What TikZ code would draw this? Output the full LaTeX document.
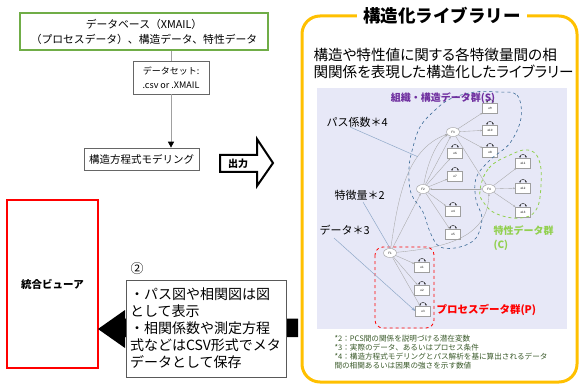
\documentclass[tikz,border=0pt]{standalone}
\usepackage{fontspec}
\setmainfont{Noto Sans CJK JP}
\newfontfamily\pfont{Noto Sans CJK JP}[RawFeature=+palt]
\usetikzlibrary{shapes.geometric,arrows.meta,calc}
\definecolor{dbgreen}{HTML}{70AD47}
\definecolor{libyellow}{HTML}{FFC000}
\definecolor{panelbg}{HTML}{E7E8F7}
\definecolor{spurple}{HTML}{7030A0}
\definecolor{cgreen}{HTML}{92D050}
\definecolor{noteg}{HTML}{3A5A2A}
\definecolor{blobblue}{HTML}{3A6A96}
\definecolor{leader}{HTML}{8FA8C8}
\definecolor{grayln}{HTML}{A0A0A0}
\begin{document}
\begin{tikzpicture}[x=1pt,y=-1pt,
  plainbox/.style={draw=gray!80!black, line width=0.7pt, fill=white, inner sep=3pt},
  lat/.style={ellipse, draw=gray!75, fill=white, minimum width=13pt, minimum height=9pt, inner sep=0pt, font=\fontsize{3}{3}\selectfont},
  obs/.style={rectangle, draw=gray!75, fill=white, minimum width=15pt, minimum height=10pt, inner sep=0pt, font=\fontsize{3}{3}\selectfont},
  pe/.style={draw=gray!70, line width=0.35pt, -{Stealth[length=2.2pt,width=1.6pt]}},
  pd/.style={draw=gray!70, line width=0.35pt, {Stealth[length=2.2pt,width=1.6pt]}-{Stealth[length=2.2pt,width=1.6pt]}},
  errarc/.style={draw=black, line width=0.4pt, {Stealth[length=1.6pt,width=1.4pt]}-{Stealth[length=1.6pt,width=1.4pt]}},
  lead/.style={draw=leader, line width=0.5pt}
]
\useasboundingbox (0,0) rectangle (580,387);

% ---------- left flow ----------
\node[draw=dbgreen, line width=1.8pt, minimum width=248pt, minimum height=37pt, align=center,
      font=\fontsize{10.8}{15}\selectfont] (db) at (144,31.5)
  {データベース（XMAIL）\\（プロセスデータ）、構造データ、特性データ};
\node[plainbox, minimum width=76pt, minimum height=33pt, align=center,
      font=\fontsize{9}{13.5}\selectfont] (ds) at (171,77.5)
  {データセット:\\.csv or .XMAIL};
\node[plainbox, minimum width=115pt, minimum height=22pt,
      font=\fontsize{10.5}{12}\selectfont] (sem) at (141.5,159) {構造方程式モデリング};
\draw[grayln, line width=0.8pt] (ds.north |- db.south) -- (ds.north);
\draw[grayln, line width=0.8pt, -{Triangle[length=6pt,width=6pt,fill=black,color=black]}]
  (ds.south) -- (ds.south |- sem.north);

% output arrow
\draw[line width=2pt, fill=white] (220,155) -- (257,155) -- (257,139) -- (273,163)
  -- (257,186) -- (257,172) -- (220,172) -- cycle;
\node[font=\bfseries\fontsize{10}{12}\selectfont] (out) at (238,163.5) {出力};

% ---------- viewer ----------
\node[draw=red, line width=1.6pt, minimum width=91pt, minimum height=168pt,
      font=\bfseries\fontsize{10.5}{12}\selectfont] (viewer) at (52.5,284) {統合ビューア};

% back arrow
\fill[black] (98,329) -- (125,310) -- (125,318.5) -- (298,318.5) -- (298,337)
  -- (125,337) -- (125,348) -- cycle;
\node[draw=gray!70!black, line width=0.7pt, fill=white, minimum width=160pt, minimum height=97pt,
      text width=152pt, align=left, inner sep=4pt,
      font=\fontsize{14}{17}\selectfont] (tb) at (206,328.5)
  {・パス図や相関図は図\\として表示\\・相関係数や測定方程\\式などはCSV形式でメタ\\データとして保存};
\node[font=\fontsize{13}{14}\selectfont] (num) at (137,269) {②};

% ---------- library frame ----------
\draw[libyellow, line width=3pt, rounded corners=18pt] (302,16) rectangle (577,382);
\node[fill=white, inner xsep=6pt, inner ysep=1pt, font=\bfseries\fontsize{17.5}{19}\selectfont]
  (libtitle) at (442,16) {構造化ライブラリー};
\node[anchor=west, align=left, font=\pfont\fontsize{14.6}{17}\selectfont] (libdesc) at (310,63.5)
  {構造や特性値に関する各特徴量間の相\\関関係を表現した構造化したライブラリー};

% panel
\fill[panelbg] (317,88) rectangle (567,329);

% path diagram nodes
\node[lat] (F3) at (453,132) {F3};
\node[obs] (e9) at (490,108) {e9};
\node[obs] (e10) at (490,130) {e10};
\node[obs] (e8) at (490,152) {e8};
\node[obs] (e6) at (455,153) {e6};
\node[obs] (e7) at (455,176) {e7};
\node[lat] (F2) at (423,189) {F2};
\node[lat] (F4) at (489,189) {F4};
\node[obs] (e11) at (523,163) {e11};
\node[obs] (e12) at (523,188) {e12};
\node[obs] (e13) at (523,212) {e13};
\node[obs] (e4) at (453,211) {e4};
\node[obs] (e5) at (453,234) {e5};
\node[lat] (F1) at (390,253) {F1};
\node[obs] (e1) at (422,267) {e1};
\node[obs] (e2) at (422,290) {e2};
\node[obs] (e3) at (423,311) {e3};

\foreach \b in {e1,e2,e3,e4,e5,e6,e7,e8,e9,e10,e11,e12,e13}{
  \draw[errarc] ([xshift=-3pt]\b.north) .. controls ([xshift=-3pt,yshift=4pt]\b.north)
    and ([xshift=3pt,yshift=4pt]\b.north) .. ([xshift=3pt]\b.north);
}

\draw[pe] (F3) -- (e9);
\draw[pe] (F3) -- (e10);
\draw[pe] (F3) -- (e8);
\draw[pe] (F2) -- (e6);
\draw[pe] (F2) -- (e7);
\draw[pe] (F2) -- (e4);
\draw[pe] (F2) -- (e5);
\draw[pe] (F4) -- (e11);
\draw[pe] (F4) -- (e12);
\draw[pe] (F4) -- (e13);
\draw[pe] (F1) -- (e1);
\draw[pe] (F1) -- (e2);
\draw[pe] (F1) -- (e3);
\draw[pd] (F2) -- (F4);
\draw[pe] (F3) -- (F4);
\draw[pe] (F2) .. controls (428,160) and (438,140) .. (F3);
\draw[pe] (F2) -- (F3);
\draw[pe] (F1) .. controls (398,200) and (405,150) .. coordinate[pos=0.7] (pcoef) (F3);
\draw[pe] (F1) -- (F2);
\draw[pe] (F1) .. controls (440,248) and (488,240) .. (F4);

% group outlines
\draw[blobblue, line width=0.6pt, dashed] plot[smooth cycle, tension=0.6] coordinates {
  (497,92) (517,95) (521,118) (510,143) (490,160) (476,178) (476,200) (482,218)
  (476,238) (460,247) (440,247) (430,232) (423,212) (411,193) (409,168) (413,147)
  (420,127) (433,112) (450,99) (475,92)};
\draw[cgreen, line width=0.8pt, dashed] plot[smooth cycle, tension=0.7] coordinates {
  (480,190) (489,168) (510,155) (528,150) (539,160) (541,185) (536,210) (520,218)
  (497,214) (484,203)};
\draw[red, line width=0.8pt, dashed, rounded corners=8pt] (375,247) rectangle (434,328);

% panel labels
\node[text=spurple, font=\bfseries\fontsize{10}{12}\selectfont] (lS) at (443,98) {組織・構造データ群(S)};
\node[anchor=west, font=\fontsize{11}{12}\selectfont] (lcoef) at (323,122) {パス係数＊4};
\node[anchor=west, font=\fontsize{11}{12}\selectfont] (lfeat) at (331,195) {特徴量＊2};
\node[anchor=west, font=\fontsize{11}{12}\selectfont] (ldata) at (316,230) {データ＊3};
\node[anchor=west, text=cgreen, align=left, font=\bfseries\fontsize{10}{13.5}\selectfont] (lC) at (490,238) {特性データ群\\(C)};
\node[anchor=west, text=red, font=\bfseries\fontsize{10.5}{12}\selectfont] (lP) at (433,310) {プロセスデータ群(P)};

\draw[lead] (350,127) -- (pcoef);
\draw[lead] (363,202) -- (F1.north);
\draw[lead, -{Stealth[length=4pt,width=3pt]}] (334,238) -- (e3.west);

% footnotes
\node[anchor=north west, align=left, text=noteg, font=\fontsize{7.6}{9}\selectfont] (notes) at (331,332)
  {*2：PCS間の関係を説明づける潜在変数\\*3：実際のデータ、あるいはプロセス条件\\*4：構造方程式モデリングとパス解析を基に算出されるデータ\\間の相関あるいは因果の強さを示す数値};
\end{tikzpicture}
\end{document}
